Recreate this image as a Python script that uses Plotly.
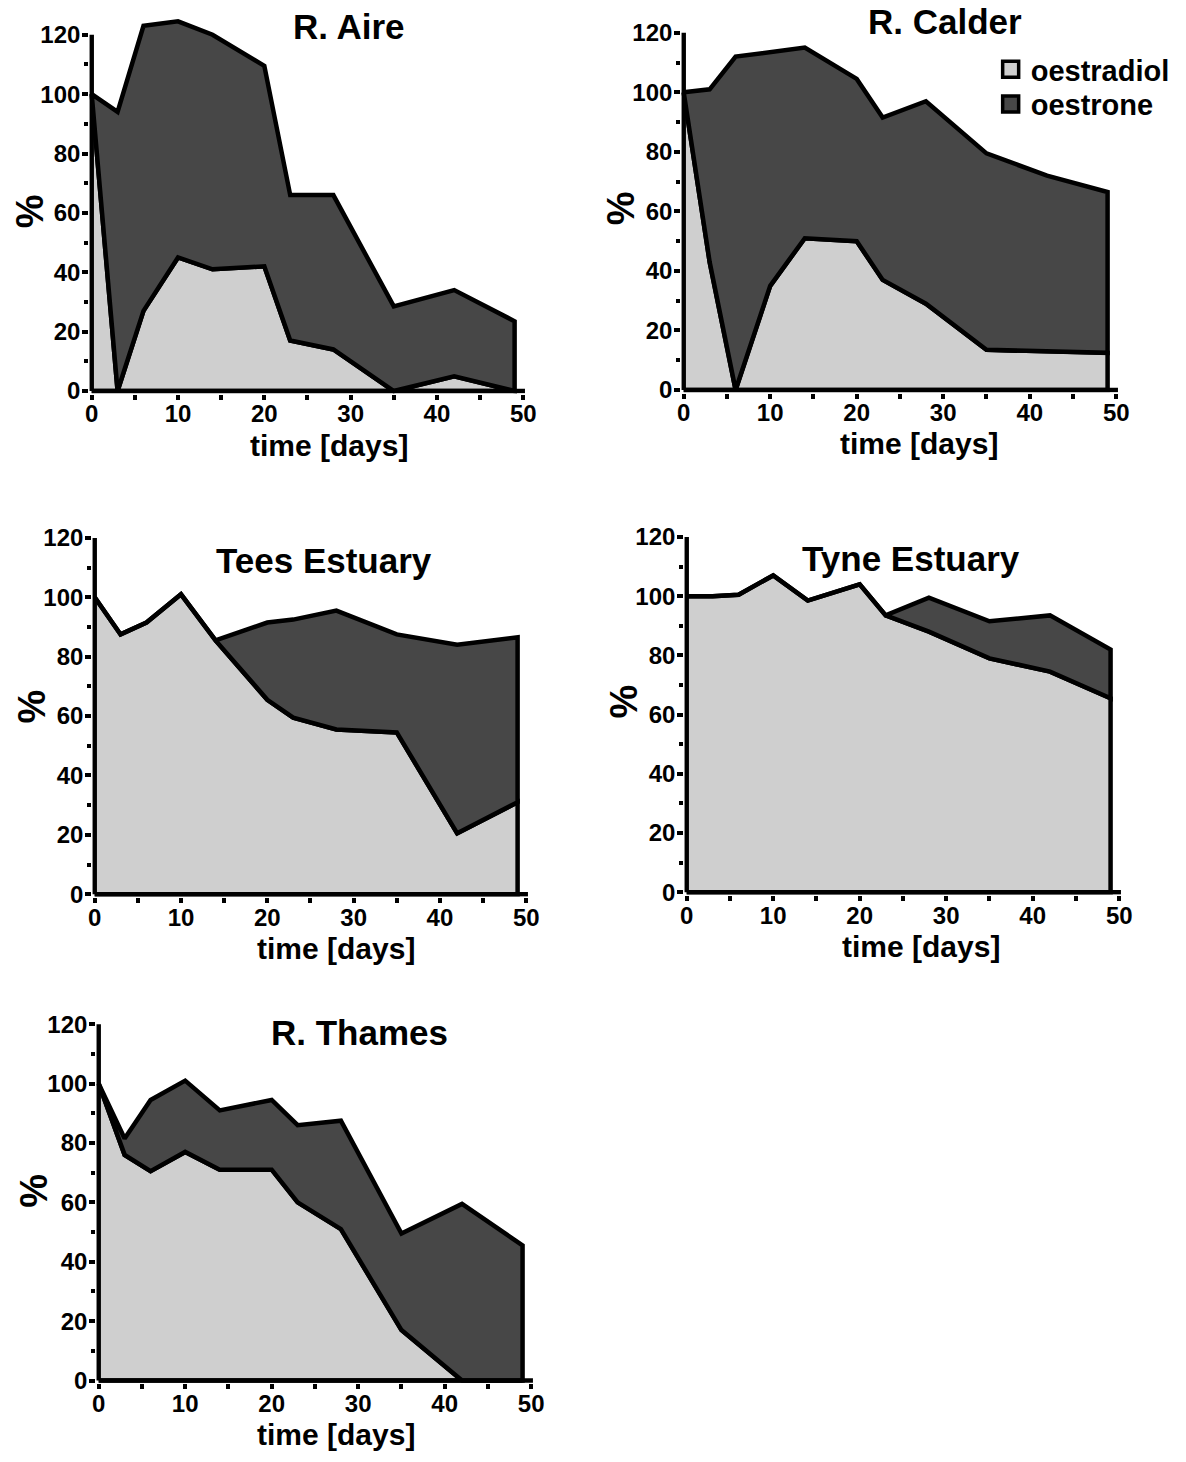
import plotly.graph_objects as go

# ---------------- data ----------------
days = [0, 3, 6, 10, 14, 20, 23, 28, 35, 42, 49]

aire_oestradiol = [100, 0, 27, 45, 41, 42, 17, 14, 0, 5, 0]
aire_oestrone = [0, 94, 96, 79.5, 79, 67.5, 49, 52, 28.5, 29, 23.5]

calder_oestradiol = [100, 43, 0, 35, 51, 50, 37, 29, 13.5, 13, 12.5]
calder_oestrone = [0, 58, 112, 78.5, 64, 54.5, 54.5, 68, 66, 59, 54]

tees_oestradiol = [100, 87.5, 91.5, 101, 85.5, 65.5, 59.5, 55.5, 54.5, 20.5, 31]
tees_oestrone = [0, 0, 0, 0, 0, 26, 33, 40, 33, 63.5, 55.5]

tyne_oestradiol = [100, 100, 100.5, 107, 98.5, 104, 93.5, 88, 79, 74.5, 65.5]
tyne_oestrone = [0, 0, 0, 0, 0, 0, 0, 11.5, 12.5, 19, 16.5]

thames_oestradiol = [100, 76, 70.5, 77, 71, 71, 60, 51, 17, 0, 0]
thames_oestrone = [0, 5.5, 24, 24, 20, 23.5, 26, 36.5, 32.5, 59.5, 45.5]

titles = ["R. Aire", "R. Calder", "Tees Estuary", "Tyne Estuary", "R. Thames"]
series_names = ["oestradiol", "oestrone"]
x_title = "time [days]"
y_title = "%"

# ---------------- layout geometry (pixels) ----------------
W, H = 1186, 1462
panels = [
    dict(data=(aire_oestradiol, aire_oestrone), x0=88, x50=521, y0=394, y120=35,
         title=(346, 27), xt=(326, 449), yt=(26, 213)),
    dict(data=(calder_oestradiol, calder_oestrone), x0=682, x50=1116, y0=393, y120=33,
         title=(944, 22), xt=(918, 447), yt=(620, 210)),
    dict(data=(tees_oestradiol, tees_oestrone), x0=91, x50=524, y0=901, y120=542,
         title=(321, 565), xt=(333, 956), yt=(28, 712)),
    dict(data=(tyne_oestradiol, tyne_oestrone), x0=685, x50=1119, y0=899, y120=541,
         title=(910, 563), xt=(920, 954), yt=(622, 707)),
    dict(data=(thames_oestradiol, thames_oestrone), x0=95, x50=529, y0=1391, y120=1032,
         title=(357, 1040), xt=(333, 1445), yt=(30, 1200)),
]

LIGHT = "#cfcfcf"
DARK = "#474747"
LW = 4.5
FONT = "Liberation Sans"

fig = go.Figure()
annotations = []
shapes = []
layout_axes = {}

for i, p in enumerate(panels):
    n = "" if i == 0 else str(i + 1)
    xref, yref = "x" + n, "y" + n
    oestradiol, oestrone = p["data"]
    total = [a + b for a, b in zip(oestradiol, oestrone)]

    # oestradiol area (light)
    fig.add_trace(go.Scatter(
        x=days + [days[-1], days[0]], y=oestradiol + [0, 0],
        fill="toself", fillcolor=LIGHT, mode="lines",
        line=dict(color="black", width=LW), showlegend=False,
        name=series_names[0], xaxis=xref, yaxis=yref, hoverinfo="skip"))
    # oestrone band (dark)
    fig.add_trace(go.Scatter(
        x=days + days[::-1], y=total + oestradiol[::-1],
        fill="toself", fillcolor=DARK, mode="lines",
        line=dict(color="black", width=LW), showlegend=False,
        name=series_names[1], xaxis=xref, yaxis=yref, hoverinfo="skip"))

    pxd = (p["x50"] - p["x0"]) / 50.0
    pyu = (p["y0"] - p["y120"]) / 120.0
    pad = 2.5
    L = p["x0"] - pad
    R = p["x0"] + 51.5 * pxd
    B = p["y0"] + pad
    T = p["y0"] - 128 * pyu

    tickfont = dict(family=FONT, size=24, color="black", weight="bold")
    layout_axes["xaxis" + n] = dict(
        domain=[L / W, R / W], range=[-pad / pxd, 51.5], anchor=yref,
        tickmode="linear", tick0=0, dtick=10, ticks="outside", ticklen=5,
        tickwidth=4, tickcolor="black", tickfont=tickfont, ticklabelstandoff=-6,
        minor=dict(ticks="outside", dtick=5, ticklen=5, tickwidth=4, tickcolor="black"),
        showgrid=False, zeroline=False, showline=False, fixedrange=True)
    layout_axes["yaxis" + n] = dict(
        domain=[1 - B / H, 1 - T / H], range=[-pad / pyu, 128], anchor=xref,
        tickmode="linear", tick0=0, dtick=20, ticks="outside", ticklen=6,
        tickwidth=4, tickcolor="black", tickfont=tickfont, ticklabelstandoff=-3,
        minor=dict(ticks="outside", dtick=10, ticklen=4, tickwidth=4, tickcolor="black"),
        showgrid=False, zeroline=False, showline=False, fixedrange=True)

    # axis lines
    shapes.append(dict(type="line", xref=xref, yref=yref, x0=0, x1=0, y0=0, y1=120,
                       line=dict(color="black", width=LW)))
    shapes.append(dict(type="line", xref=xref, yref=yref, x0=0, x1=50.2, y0=0, y1=0,
                       line=dict(color="black", width=LW)))

    annotations.append(dict(text=titles[i], x=p["title"][0] / W, y=1 - p["title"][1] / H,
                            xref="paper", yref="paper", showarrow=False,
                            xanchor="center", yanchor="middle",
                            font=dict(family=FONT, size=35, color="black", weight="bold")))
    annotations.append(dict(text=x_title, x=p["xt"][0] / W, y=1 - p["xt"][1] / H,
                            xref="paper", yref="paper", showarrow=False,
                            xanchor="center", yanchor="middle",
                            font=dict(family=FONT, size=30, color="black", weight="bold")))
    annotations.append(dict(text=y_title, x=p["yt"][0] / W, y=1 - p["yt"][1] / H,
                            xref="paper", yref="paper", showarrow=False, textangle=-90,
                            xanchor="center", yanchor="middle",
                            font=dict(family=FONT, size=38, color="black", weight="bold")))

# legend-only entries (one legend per item for exact spacing)
legend_ids = ["legend", "legend2"]
for name, col, lid in zip(series_names, [LIGHT, DARK], legend_ids):
    fig.add_trace(go.Scatter(
        x=[None], y=[None], mode="markers", name=name, legend=lid,
        marker=dict(symbol="square", size=20, color=col, line=dict(color="black", width=3.5)),
        xaxis="x2", yaxis="y2", showlegend=True))

legend_style = dict(xanchor="left", yanchor="middle",
                    font=dict(family=FONT, size=29, color="black", weight="bold"),
                    bgcolor="rgba(0,0,0,0)", itemwidth=30, borderwidth=0)

fig.update_layout(
    width=W, height=H, margin=dict(l=0, r=0, t=0, b=0),
    paper_bgcolor="white", plot_bgcolor="rgba(0,0,0,0)",
    showlegend=True,
    legend=dict(x=990 / W, y=1 - 70 / H, **legend_style),
    legend2=dict(x=990 / W, y=1 - 105 / H, **legend_style),
    annotations=annotations, shapes=shapes,
    **layout_axes)

fig.write_html("out.html")
